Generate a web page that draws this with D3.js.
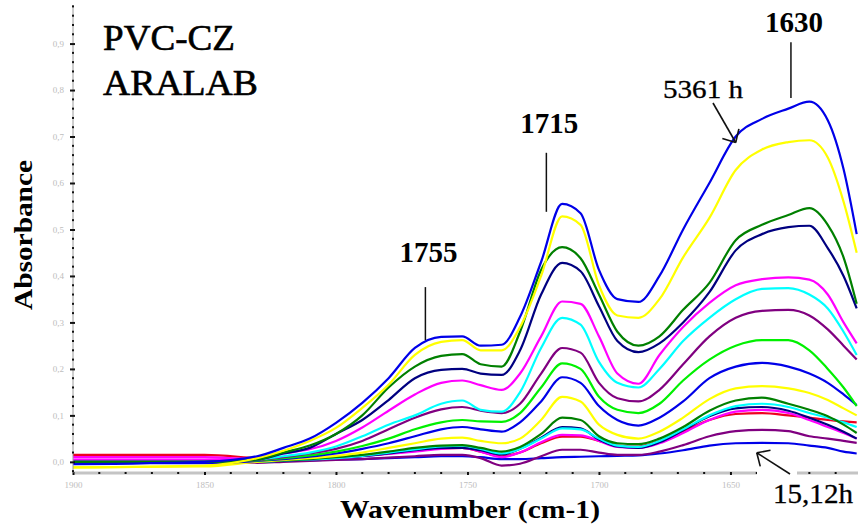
<!DOCTYPE html>
<html>
<head>
<meta charset="utf-8">
<script src="https://cdn.jsdelivr.net/npm/d3@7"></script>
<style>
  html, body { margin: 0; padding: 0; background: #fff; }
  svg { display: block; }
</style>
</head>
<body>
<svg id="chart" width="858" height="526"></svg>
<script>
// wavenumber grid (cm-1) shared by every spectrum
const wavenumbers = [1900, 1850, 1830, 1820, 1810, 1800, 1790, 1780, 1770, 1760,
                     1752, 1745, 1737, 1730, 1722, 1714, 1707, 1700, 1693, 1685,
                     1677, 1668, 1658, 1648, 1638, 1628, 1620, 1613, 1607, 1602];

// absorbance spectra, longest exposure (5361 h) first, shortest (15,12 h) last
const s5361 = [-0.005, 0.0, 0.012, 0.03, 0.05, 0.084, 0.127, 0.18, 0.245, 0.269,
               0.27, 0.25, 0.252, 0.312, 0.43, 0.555, 0.535, 0.413, 0.35, 0.344,
               0.40, 0.50, 0.60, 0.70, 0.738, 0.76, 0.775, 0.735, 0.63, 0.49];
const sB = [-0.012, -0.008, 0.008, 0.024, 0.045, 0.073, 0.116, 0.166, 0.23, 0.258,
            0.262, 0.24, 0.24, 0.29, 0.40, 0.528, 0.51, 0.38, 0.315, 0.31,
            0.35, 0.44, 0.525, 0.628, 0.672, 0.688, 0.692, 0.655, 0.56, 0.45];
const sC = [0.0, 0.0, 0.005, 0.02, 0.035, 0.06, 0.1, 0.16, 0.205, 0.228,
            0.232, 0.21, 0.205, 0.28, 0.413, 0.462, 0.438, 0.36, 0.28, 0.25,
            0.27, 0.327, 0.385, 0.477, 0.51, 0.531, 0.546, 0.51, 0.44, 0.34];
const sD = [0.0, 0.0, 0.005, 0.018, 0.03, 0.06, 0.09, 0.133, 0.18, 0.198,
            0.2, 0.19, 0.187, 0.24, 0.36, 0.428, 0.41, 0.335, 0.26, 0.236,
            0.255, 0.3, 0.365, 0.455, 0.49, 0.505, 0.508, 0.46, 0.4, 0.33];
const sE = [0.005, 0.005, 0.008, 0.018, 0.027, 0.045, 0.074, 0.11, 0.145, 0.17,
            0.175, 0.165, 0.155, 0.19, 0.27, 0.345, 0.34, 0.27, 0.19, 0.168,
            0.23, 0.29, 0.342, 0.38, 0.393, 0.397, 0.392, 0.36, 0.3, 0.255];
const sF = [0.0, 0.0, 0.005, 0.012, 0.02, 0.033, 0.055, 0.08, 0.1, 0.125,
            0.132, 0.112, 0.108, 0.15, 0.245, 0.31, 0.295, 0.215, 0.17, 0.16,
            0.2, 0.26, 0.31, 0.35, 0.372, 0.374, 0.36, 0.33, 0.28, 0.23];
const sG = [0.0, 0.0, 0.004, 0.01, 0.018, 0.028, 0.045, 0.07, 0.095, 0.113,
            0.118, 0.11, 0.105, 0.125, 0.19, 0.245, 0.235, 0.17, 0.137, 0.13,
            0.155, 0.21, 0.27, 0.31, 0.325, 0.327, 0.315, 0.285, 0.25, 0.22];
const sH = [0.0, 0.0, 0.003, 0.008, 0.014, 0.022, 0.034, 0.05, 0.07, 0.085,
            0.09, 0.087, 0.086, 0.105, 0.16, 0.212, 0.2, 0.14, 0.112, 0.105,
            0.125, 0.175, 0.22, 0.25, 0.262, 0.262, 0.24, 0.2, 0.16, 0.12];
const sI = [0.0, -0.003, 0.002, 0.006, 0.011, 0.018, 0.028, 0.04, 0.055, 0.07,
            0.075, 0.07, 0.065, 0.085, 0.13, 0.182, 0.17, 0.12, 0.09, 0.078,
            0.095, 0.13, 0.18, 0.205, 0.213, 0.205, 0.19, 0.17, 0.145, 0.122];
const sJ = [-0.012, -0.01, 0.0, 0.004, 0.008, 0.013, 0.02, 0.03, 0.04, 0.05,
            0.052, 0.045, 0.04, 0.05, 0.09, 0.14, 0.13, 0.08, 0.058, 0.05,
            0.065, 0.095, 0.135, 0.158, 0.163, 0.158, 0.148, 0.133, 0.115, 0.1];
const sK = [0.0, 0.0, 0.0, 0.003, 0.006, 0.01, 0.015, 0.022, 0.03, 0.035,
            0.036, 0.03, 0.022, 0.032, 0.06, 0.095, 0.09, 0.055, 0.04, 0.038,
            0.05, 0.075, 0.11, 0.132, 0.138, 0.125, 0.112, 0.098, 0.08, 0.062];
const sL = [0.0, 0.0, 0.0, 0.003, 0.005, 0.008, 0.013, 0.02, 0.027, 0.033,
            0.035, 0.028, 0.018, 0.028, 0.05, 0.072, 0.07, 0.05, 0.035, 0.032,
            0.045, 0.07, 0.1, 0.12, 0.125, 0.118, 0.105, 0.095, 0.085, 0.075];
const sM = [0.0, 0.0, 0.0, 0.002, 0.005, 0.008, 0.012, 0.018, 0.025, 0.03,
            0.03, 0.025, 0.016, 0.028, 0.052, 0.075, 0.072, 0.048, 0.033, 0.03,
            0.042, 0.068, 0.098, 0.115, 0.118, 0.11, 0.095, 0.08, 0.065, 0.05];
const sN = [0.01, 0.01, 0.005, 0.004, 0.006, 0.008, 0.012, 0.017, 0.022, 0.028,
            0.03, 0.022, 0.01, 0.02, 0.042, 0.058, 0.057, 0.045, 0.032, 0.03,
            0.04, 0.062, 0.09, 0.108, 0.112, 0.105, 0.09, 0.075, 0.062, 0.05];
const sO = [0.015, 0.015, 0.008, 0.005, 0.007, 0.01, 0.013, 0.018, 0.024, 0.029,
            0.03, 0.022, 0.012, 0.02, 0.04, 0.054, 0.054, 0.045, 0.035, 0.033,
            0.045, 0.065, 0.09, 0.103, 0.105, 0.1, 0.095, 0.09, 0.087, 0.085];
const sP = [0.0, 0.0, -0.002, 0.0, 0.002, 0.004, 0.006, 0.009, 0.012, 0.015,
            0.015, 0.008, -0.008, -0.004, 0.012, 0.026, 0.026, 0.02, 0.015, 0.015,
            0.022, 0.036, 0.055, 0.066, 0.069, 0.066, 0.055, 0.05, 0.045, 0.041];
const s15 = [0.0, 0.0, 0.0, 0.002, 0.003, 0.005, 0.006, 0.008, 0.01, 0.012,
             0.012, 0.01, 0.006, 0.006, 0.008, 0.01, 0.011, 0.012, 0.013, 0.014,
             0.018, 0.025, 0.035, 0.04, 0.041, 0.04, 0.035, 0.03, 0.022, 0.018];

const spectra = [s5361, sB, sC, sD, sE, sF, sG, sH, sI, sJ, sK, sL, sM, sN, sO, sP, s15];
const lineColors = ['#0000e8', '#ffff00', '#008000', '#000080', '#ff00ff', '#00ffff',
                    '#800080', '#00f000', '#0000e8', '#ffff00', '#008000', '#00ffff',
                    '#000080', '#ff00ff', '#ee0022', '#800080', '#0000e8'];

const yTicks = [0, 0.1, 0.2, 0.3, 0.4, 0.5, 0.6, 0.7, 0.8, 0.9];
const xTicks = [1900, 1850, 1800, 1750, 1700, 1650];

// peak annotations: label, wavenumber of the marker, absorbance at marker bottom / top / label baseline
const peaks = [['1755', 1766, 0.262, 0.376, 0.43],
               ['1715', 1720, 0.538, 0.665, 0.708],
               ['1630', 1627, 0.783, 0.903, 0.925]];

const svg = d3.select('#chart');
const plotLeft = 73, plotRight = 858, plotTop = 5, plotBottom = 473;
const serif = '"Liberation Serif", "Times New Roman", serif';

const x = d3.scaleLinear().domain([1900, 1601.5]).range([plotLeft, plotRight]);
const y = d3.scaleLinear().domain([-0.024, 0.983]).range([plotBottom, plotTop]);

// curves
const line = d3.line()
  .x((d, i) => x(wavenumbers[i]))
  .y(d => y(d))
  .curve(d3.curveMonotoneX);

svg.append('g')
  .selectAll('path')
  .data(spectra.map((s, i) => ({ s, c: lineColors[i] })).reverse())
  .enter()
  .append('path')
  .attr('d', d => line(d.s))
  .attr('fill', 'none')
  .attr('stroke', d => d.c)
  .attr('stroke-width', 2.2)
  .attr('stroke-linejoin', 'round');

// x axis: grey bar with dots
svg.append('line')
  .attr('x1', plotLeft).attr('x2', plotRight)
  .attr('y1', plotBottom).attr('y2', plotBottom)
  .attr('stroke', '#c4c4c4').attr('stroke-width', 3);

const xMinor = d3.range(1890, 1600, -10).filter(v => v % 50 !== 0);
svg.append('g').selectAll('rect')
  .data(xMinor).enter().append('rect')
  .attr('x', d => x(d) - 1).attr('y', plotBottom - 1)
  .attr('width', 2).attr('height', 2).attr('fill', '#111');

const xAxis = d3.axisBottom(x).tickValues(xTicks).tickSize(3).tickPadding(7)
  .tickFormat(d3.format('d'));
const gx = svg.append('g')
  .attr('transform', `translate(0, ${plotBottom - 1})`)
  .call(xAxis);
gx.select('.domain').remove();
gx.selectAll('.tick line').attr('stroke', '#111').attr('stroke-width', 2);
gx.selectAll('.tick text').attr('fill', '#bdbdbd').attr('font-size', 9)
  .attr('font-family', serif);

// y axis
svg.append('line')
  .attr('x1', plotLeft).attr('x2', plotLeft)
  .attr('y1', plotTop).attr('y2', plotBottom)
  .attr('stroke', '#9a9a9a').attr('stroke-width', 1);

const yMinor = d3.range(-0.02, 0.99, 0.02).filter(v => Math.abs(v * 10 - Math.round(v * 10)) > 0.01);
svg.append('g').selectAll('rect')
  .data(yMinor).enter().append('rect')
  .attr('x', plotLeft - 1).attr('y', d => y(d) - 1)
  .attr('width', 2).attr('height', 2).attr('fill', '#111');

const yAxis = d3.axisLeft(y).tickValues(yTicks).tickSize(5).tickPadding(6)
  .tickFormat(d => d.toFixed(1).replace('.', ','));
const gy = svg.append('g')
  .attr('transform', `translate(${plotLeft + 2}, 0)`)
  .call(yAxis);
gy.select('.domain').remove();
gy.selectAll('.tick line').attr('stroke', '#111').attr('stroke-width', 2);
gy.selectAll('.tick text').attr('fill', '#bdbdbd').attr('font-size', 9)
  .attr('font-family', serif);

// axis titles
svg.append('text')
  .attr('x', 340).attr('y', 518)
  .attr('font-family', serif).attr('font-weight', 'bold').attr('font-size', 25)
  .attr('textLength', 260).attr('lengthAdjust', 'spacingAndGlyphs')
  .text('Wavenumber (cm-1)');

svg.append('text')
  .attr('transform', 'translate(32, 310) rotate(-90)')
  .attr('font-family', serif).attr('font-weight', 'bold').attr('font-size', 26)
  .attr('textLength', 150).attr('lengthAdjust', 'spacingAndGlyphs')
  .text('Absorbance');

// regular-weight labels get a thin outline so they read as heavy as the scan
function plainText(xp, yp, size, len, str) {
  return svg.append('text').attr('x', xp).attr('y', yp)
    .attr('font-family', serif).attr('font-size', size)
    .attr('stroke', '#000').attr('stroke-width', 0.6)
    .attr('textLength', len).attr('lengthAdjust', 'spacingAndGlyphs')
    .text(str);
}

// sample name
plainText(103, 50, 35, 132, 'PVC-CZ');
plainText(103, 95, 35, 155, 'ARALAB');

// peak markers
const peakG = svg.append('g');
peaks.forEach(([label, wn, aBottom, aTop, aLabel]) => {
  const px = x(wn);
  peakG.append('line')
    .attr('x1', px).attr('x2', px)
    .attr('y1', y(aTop)).attr('y2', y(aBottom))
    .attr('stroke', '#111').attr('stroke-width', 1.5);
  peakG.append('text')
    .attr('x', px + 3).attr('y', y(aLabel))
    .attr('text-anchor', 'middle')
    .attr('font-family', serif).attr('font-weight', 'bold').attr('font-size', 29)
    .text(label);
});

// time labels with arrows
function arrow(x1, y1, x2, y2) {
  const g = svg.append('g').attr('stroke', '#111').attr('stroke-width', 1.6).attr('fill', 'none');
  g.append('line').attr('x1', x1).attr('y1', y1).attr('x2', x2).attr('y2', y2);
  const ang = Math.atan2(y2 - y1, x2 - x1);
  [0.75, -0.75].forEach(da => {
    g.append('line')
      .attr('x1', x2).attr('y1', y2)
      .attr('x2', x2 - 14 * Math.cos(ang + da))
      .attr('y2', y2 - 14 * Math.sin(ang + da));
  });
}

plainText(663, 98, 25, 80, '5361 h').attr('stroke-width', 0.3);
arrow(713, 103, x(1648), y(s5361[23]) + 6);

svg.append('rect')
  .attr('x', 757).attr('y', plotBottom - 4).attr('width', 40).attr('height', 8)
  .attr('fill', '#fff');
plainText(773, 503, 28, 80, '15,12h').attr('stroke-width', 0.3);
arrow(790, 474, x(1640), y(s15[24]) + 10);
</script>
</body>
</html>
